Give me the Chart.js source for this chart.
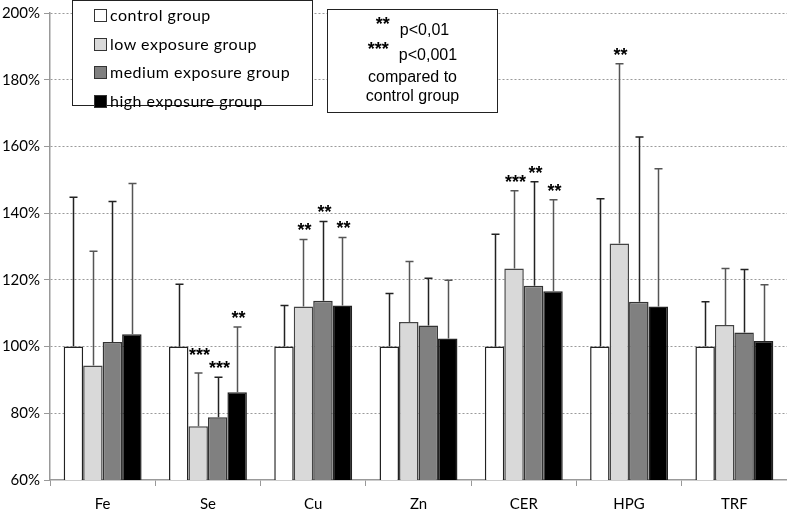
<!DOCTYPE html>
<html>
<head>
<meta charset="utf-8">
<script src="https://cdn.jsdelivr.net/npm/chart.js@4/dist/chart.umd.min.js"></script>
<style>
  html, body { margin: 0; padding: 0; background: #fff; }
  #wrap { position: relative; width: 787px; height: 511px; }
  #legendBox {
    position: absolute; left: 72px; top: 0px; width: 239px; height: 104px;
    border: 1.5px solid #222; background: #fff;
    font-family: Lato, sans-serif; font-size: 16px; letter-spacing: 0.5px; color: #000;
  }
  .lg-item { position: absolute; left: 21px; height: 20px; line-height: 20px; white-space: nowrap; }
  .lg-sw { display: inline-block; width: 11px; height: 11px; border: 1px solid #333; vertical-align: -1px; margin-right: 3px; }
  #noteBox {
    position: absolute; left: 327px; top: 9px; width: 169px; height: 102px;
    border: 1.5px solid #222; background: #fff;
    font-family: "Liberation Sans", Arial, sans-serif; font-size: 16px; color: #000; text-align: center;
  }
  #noteBox .ln { position: absolute; left: 0; width: 100%; height: 20px; line-height: 20px; }
  #noteBox .st { font-weight: bold; font-size: 18px; position: relative; top: -5px; margin-right: 10px; }
</style>
</head>
<body>
<div id="wrap">
  <canvas id="chart" width="787" height="511"></canvas>
  <div id="legendBox"></div>
  <div id="noteBox">
    <div class="ln" style="top:9px"><span class="st">**</span>p&lt;0,01</div>
    <div class="ln" style="top:34px"><span class="st">***</span>p&lt;0,001</div>
    <div class="ln" style="top:57px">compared to</div>
    <div class="ln" style="top:76px">control group</div>
  </div>
</div>
<script>
// ========= data =========
const categories = ['Fe', 'Se', 'Cu', 'Zn', 'CER', 'HPG', 'TRF'];
const yTicks = [60, 80, 100, 120, 140, 160, 180, 200];

const groupNames = ['control group', 'low exposure group', 'medium exposure group', 'high exposure group'];

// mean values, % of control
const controlVals = [100, 100, 100, 100, 100, 100, 100];
const lowVals     = [94.3, 76.1, 112.0, 107.4, 123.4, 130.9, 106.5];
const mediumVals  = [101.4, 78.8, 113.7, 106.3, 118.2, 113.4, 104.2];
const highVals    = [103.7, 86.3, 112.3, 102.4, 116.6, 112.0, 101.7];

// upper end of the error bars (%)
const controlErr = [144.8, 118.7, 112.3, 115.9, 133.7, 144.3, 113.4];
const lowErr     = [128.6, 92.1, 132.1, 125.5, 146.7, 184.8, 123.4];
const mediumErr  = [143.5, 90.8, 137.5, 120.5, 149.4, 162.8, 123.1];
const highErr    = [148.9, 105.9, 132.7, 119.9, 144.0, 153.3, 118.5];

// significance marks above the error bars
const controlSig = ['', '', '', '', '', '', ''];
const lowSig     = ['', '***', '**', '', '***', '**', ''];
const mediumSig  = ['', '***', '**', '', '**', '', ''];
const highSig    = ['', '**', '**', '', '**', '', ''];

// ========= chart =========
const FONT = 'Lato, sans-serif';
const fills   = ['#ffffff', '#d9d9d9', '#808080', '#000000'];
const borders = ['#222222', '#444444', '#333333', '#222222'];
const errCols = ['#222222', '#555555', '#222222', '#555555'];

const valueSets = [controlVals, lowVals, mediumVals, highVals];
const errSets   = [controlErr, lowErr, mediumErr, highErr];
const sigSets   = [controlSig, lowSig, mediumSig, highSig];

const errorBars = {
  id: 'errorBars',
  afterDatasetsDraw(chart) {
    const { ctx } = chart;
    const y = chart.scales.y;
    ctx.save();
    chart.data.datasets.forEach((ds, di) => {
      const meta = chart.getDatasetMeta(di);
      meta.data.forEach((bar, i) => {
        const top = y.getPixelForValue(errSets[di][i]);
        const x = Math.round(bar.x) + 0.5;
        ctx.strokeStyle = errCols[di];
        ctx.lineWidth = 1.5;
        ctx.beginPath();
        ctx.moveTo(x, bar.y);
        ctx.lineTo(x, top);
        ctx.moveTo(x - 4, top);
        ctx.lineTo(x + 4, top);
        ctx.stroke();
        const s = sigSets[di][i];
        if (s) {
          ctx.fillStyle = '#000';
          ctx.font = 'bold 18px "Liberation Sans", Arial, sans-serif';
          ctx.textAlign = 'center';
          ctx.textBaseline = 'middle';
          // Se low marks sit a bit higher in the original
          const off = (di === 1 && i === 1) ? 22 : 13;
          ctx.fillText(s, x + 1, top - off + 5);
        }
      });
    });
    ctx.restore();
  }
};

const chart = new Chart(document.getElementById('chart'), {
  type: 'bar',
  data: {
    labels: categories,
    datasets: groupNames.map((name, i) => ({
      label: name,
      data: valueSets[i],
      backgroundColor: fills[i],
      borderColor: borders[i],
      borderWidth: 1.5,
      borderSkipped: 'bottom',
      categoryPercentage: 0.74,
      barPercentage: 1.0
    }))
  },
  options: {
    responsive: false,
    animation: false,
    layout: { padding: { top: 10, right: 0, left: 0, bottom: 0 } },
    plugins: { legend: { display: false }, tooltip: { enabled: false } },
    scales: {
      x: {
        afterFit: (s) => { s.height = 31; },
        grid: { offset: true, drawOnChartArea: false, drawTicks: true, tickLength: 6, color: '#999' },
        border: { color: '#999', width: 1.5 },
        ticks: { font: { family: FONT, size: 15 }, color: '#000', padding: 9 }
      },
      y: {
        min: 60,
        max: 200,
        afterFit: (s) => { s.width = 50; },
        afterBuildTicks: (s) => { s.ticks = yTicks.map(v => ({ value: v })); },
        grid: { color: (c) => c.tick && c.tick.value === 60 ? 'rgba(0,0,0,0)' : '#9a9a9a', tickColor: '#999', tickLength: 6, lineWidth: 1 },
        border: { color: '#999', width: 1.5, dash: [2, 2] },
        ticks: {
          font: { family: FONT, size: 15 }, color: '#000', padding: 4,
          callback: (v) => v + '%'
        }
      }
    }
  },
  plugins: [errorBars]
});

// ========= legend =========
const lg = document.getElementById('legendBox');
groupNames.forEach((name, i) => {
  const el = document.createElement('div');
  el.className = 'lg-item';
  el.style.top = (4 + i * 28.5) + 'px';
  el.innerHTML = `<span class="lg-sw" style="background:${fills[i]}"></span>${name}`;
  lg.appendChild(el);
});
</script>
</body>
</html>
